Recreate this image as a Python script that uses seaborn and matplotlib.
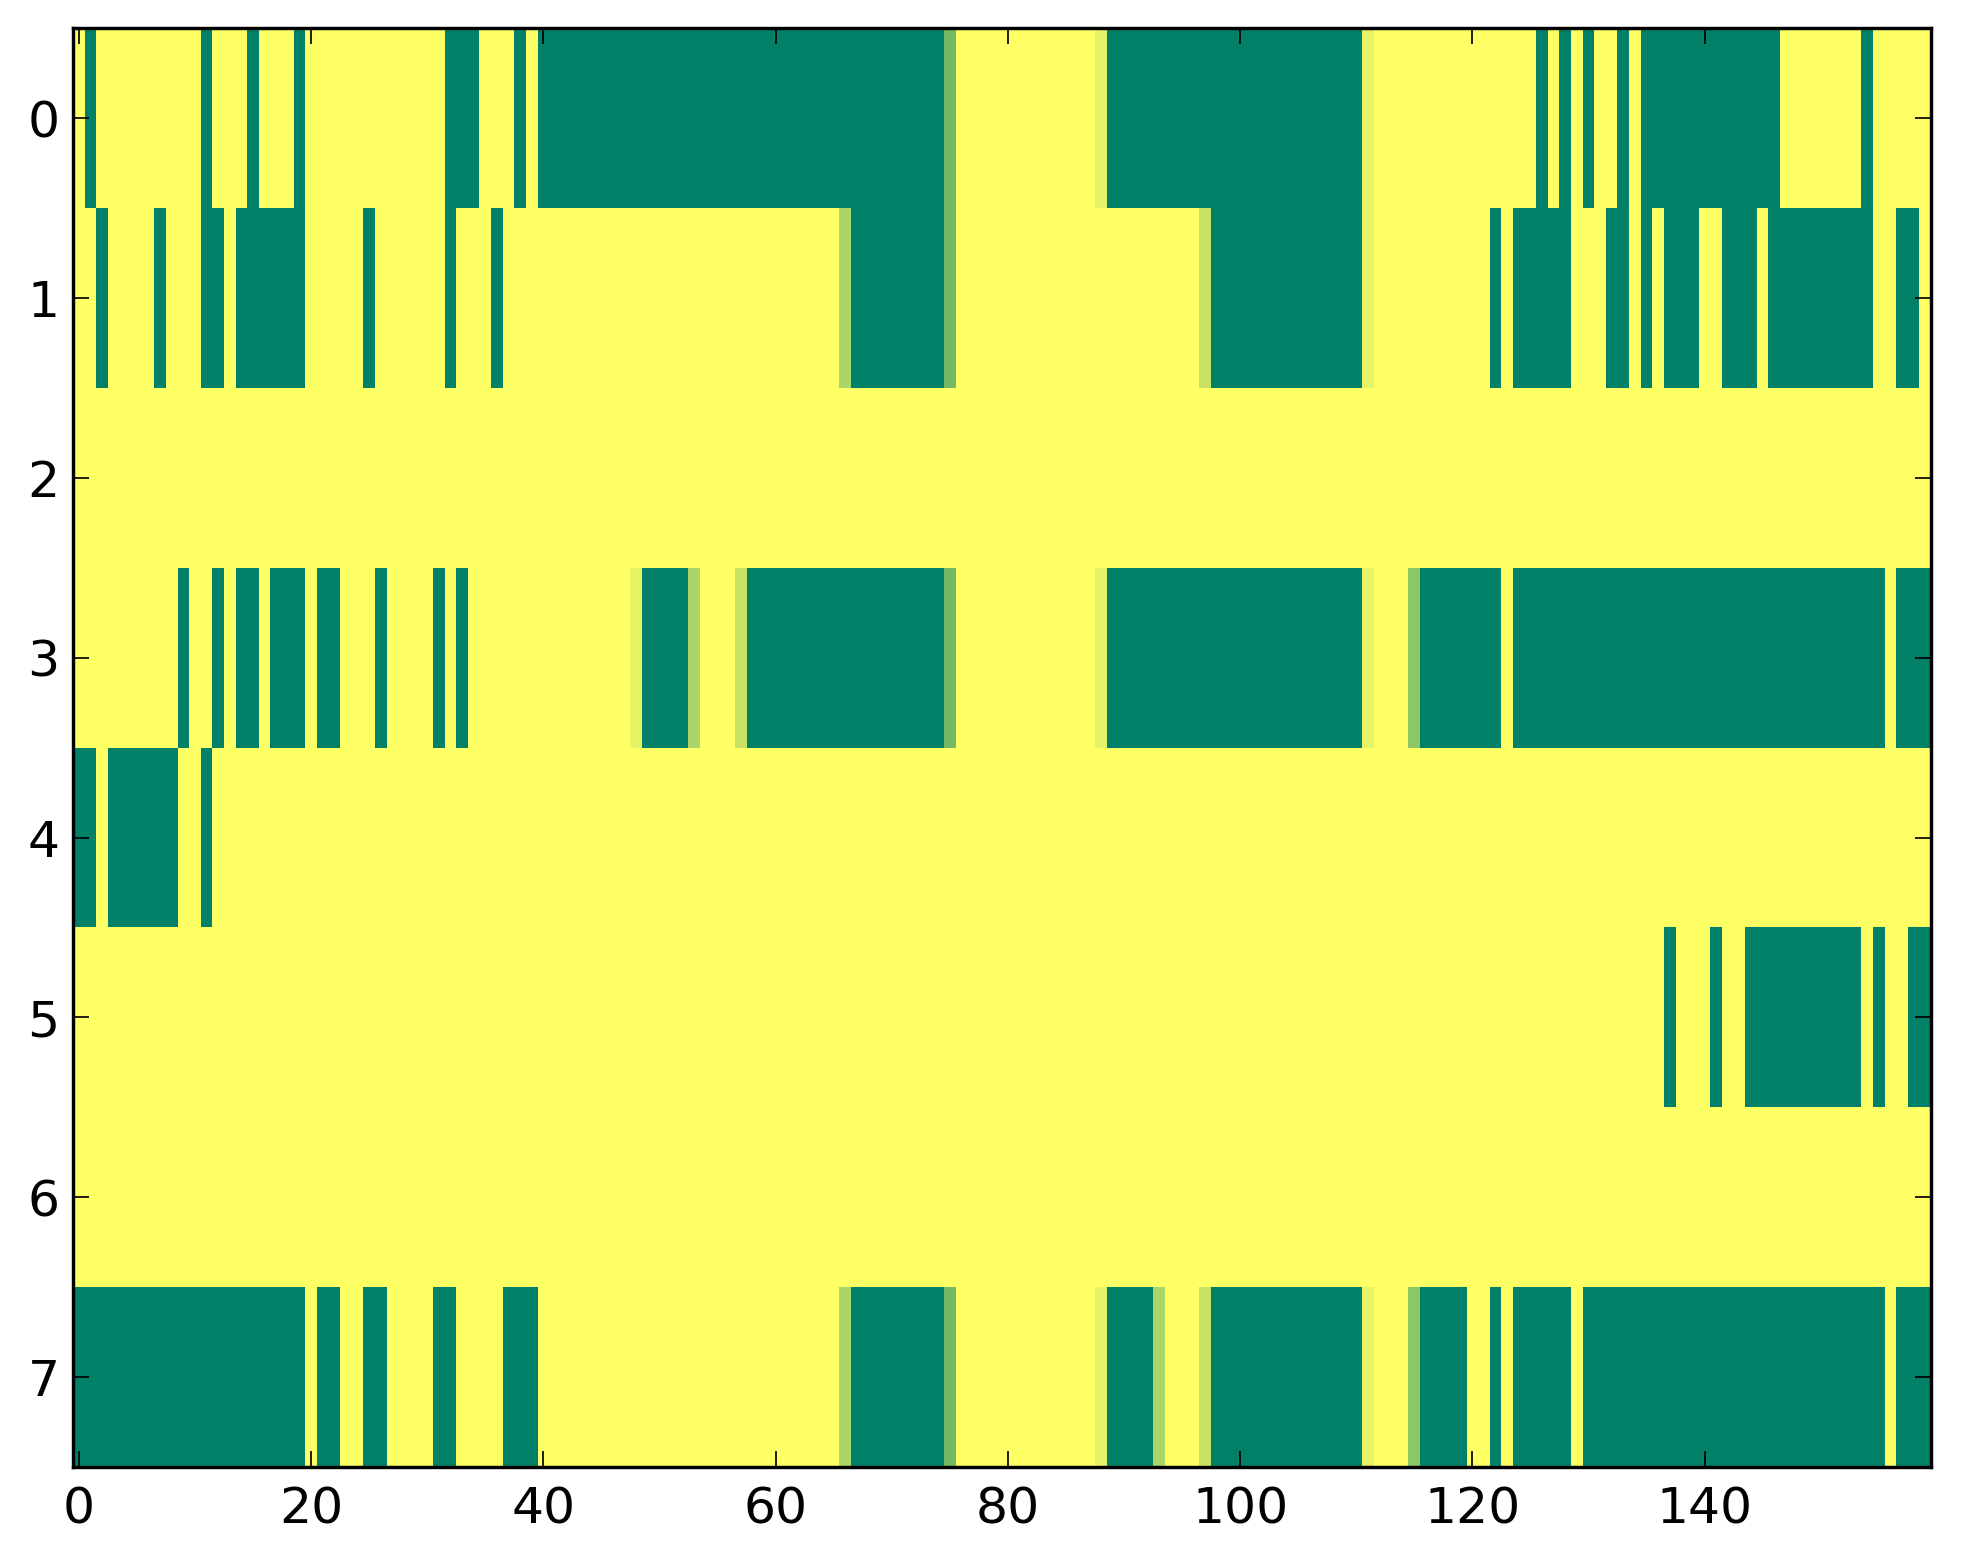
import numpy as np
import pandas as pd
import matplotlib
matplotlib.use('Agg')
import matplotlib.pyplot as plt
import seaborn as sns

# cell codes: '#' = 0 (green), '.' = 1 (yellow),
# letters are the in-between shades
codes = {'#': 0.0, 'a': 0.45, 'b': 0.55, 'c': 0.67, 'd': 0.78, 'e': 0.9, '.': 1.0}

row0 = ('.#........' '.#...#...#' '..........' '..###...#.'
        '##########' '##########' '##########' '#####a....'
        '........e#' '##########' '##########' '#e........'
        '......#.#.' '#..#.#####' '#######...' '....#.....')
row1 = ('..#....#..' '.##.######' '.....#....' '..#...#...'
        '..........' '..........' '......c###' '#####a....'
        '..........' '.......d##' '##########' '#e........'
        '..#.#####.' '..##.#.###' '..###.####' '#####..##.')
row2 = '.' * 160
row3 = ('.........#' '..#.##.###' '.##...#...' '.#.#......'
        '........e#' '###c...d##' '##########' '#####a....'
        '........e#' '##########' '##########' '#e...b####'
        '###.######' '##########' '##########' '######.###')
row4 = ('##.######.' '.#........' '..........' '..........'
        '..........' '..........' '..........' '..........'
        '..........' '..........' '..........' '..........'
        '..........' '..........' '..........' '..........')
row5 = ('..........' '..........' '..........' '..........'
        '..........' '..........' '..........' '..........'
        '..........' '..........' '..........' '..........'
        '..........' '.......#..' '.#..######' '####.#..##')
row6 = '.' * 160
row7 = ('##########' '##########' '.##..##...' '.##....###'
        '..........' '..........' '......c###' '#####a....'
        '........e#' '###c...d##' '##########' '#e...b####'
        '..#.#####.' '##########' '##########' '######.###')

rows = [row0, row1, row2, row3, row4, row5, row6, row7]
x_ticks = [0, 20, 40, 60, 80, 100, 120, 140]
y_ticks = [0, 1, 2, 3, 4, 5, 6, 7]

data = pd.DataFrame([[codes[ch] for ch in r] for r in rows])

fig, ax = plt.subplots(figsize=(1963 / 245, 1564 / 245), dpi=245)
fig.subplots_adjust(left=0.0372, right=0.9837, bottom=0.062, top=0.982)

sns.heatmap(data, cmap='summer', vmin=0, vmax=1, cbar=False,
            xticklabels=False, yticklabels=False, ax=ax)

ax.set_xticks(np.array(x_ticks) + 0.5)
ax.set_xticklabels([str(t) for t in x_ticks], rotation=0)
ax.set_yticks(np.array(y_ticks) + 0.5)
ax.set_yticklabels([str(t) for t in y_ticks], rotation=0)
ax.tick_params(direction='in', top=True, right=True, length=4.7, width=0.5,
               labelsize=14.8, color='black')
ax.tick_params(axis='x', pad=5.5)
ax.tick_params(axis='y', pad=4)
for s in ax.spines.values():
    s.set_visible(True)
    s.set_linewidth(1)
    s.set_color('black')

fig.savefig('out.png', dpi=245, facecolor='white')
